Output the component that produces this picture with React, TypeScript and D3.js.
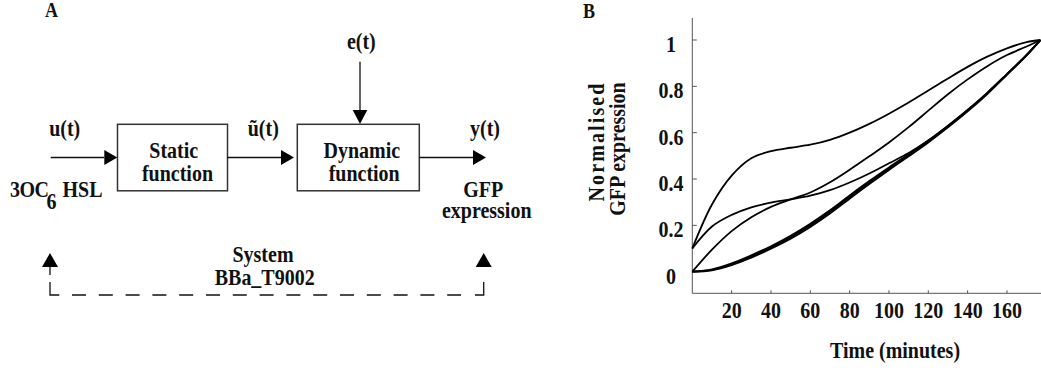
import React from "react";
import * as d3 from "d3";

// Sampling times (minutes) of the simulated GFP responses
const TIME = [0, 10, 20, 30, 40, 50, 60, 70, 80, 90, 100, 110, 120, 130, 140, 150, 160, 170, 177];

// Normalised GFP expression for each simulated input profile
const RESP_FAST = [0.1, 0.29, 0.415, 0.49, 0.52, 0.535, 0.548, 0.569, 0.6, 0.638, 0.682, 0.73, 0.782, 0.834, 0.884, 0.928, 0.964, 0.991, 1.0];
const RESP_MID = [0.1, 0.195, 0.245, 0.278, 0.298, 0.312, 0.328, 0.352, 0.385, 0.424, 0.468, 0.512, 0.566, 0.63, 0.698, 0.772, 0.853, 0.936, 1.0];
const RESP_SIGMOID = [0, 0.095, 0.175, 0.235, 0.28, 0.312, 0.342, 0.386, 0.44, 0.498, 0.558, 0.624, 0.695, 0.766, 0.83, 0.887, 0.935, 0.972, 1.0];
const RESP_SLOW_1 = [0, 0.008, 0.032, 0.066, 0.104, 0.148, 0.2, 0.258, 0.322, 0.385, 0.445, 0.503, 0.562, 0.626, 0.695, 0.77, 0.852, 0.935, 1.0];
const RESP_SLOW_2 = [0, 0.01, 0.036, 0.071, 0.11, 0.155, 0.207, 0.265, 0.329, 0.391, 0.45, 0.507, 0.566, 0.629, 0.698, 0.772, 0.853, 0.936, 1.0];
const RESP_SLOW_3 = [0, 0.006, 0.028, 0.061, 0.099, 0.142, 0.193, 0.251, 0.315, 0.378, 0.439, 0.498, 0.558, 0.623, 0.692, 0.767, 0.85, 0.934, 1.0];

const SERIES = [RESP_FAST, RESP_MID, RESP_SIGMOID, RESP_SLOW_1, RESP_SLOW_2, RESP_SLOW_3];

const X_TICKS = [20, 40, 60, 80, 100, 120, 140, 160];
const Y_TICKS = [0, 0.2, 0.4, 0.6, 0.8, 1];
const Y_TICK_LABELS = ["0", "0.2", "0.4", "0.6", "0.8", "1"];

const FONT = "'Liberation Serif', 'Times New Roman', Times, serif";
const STRETCH = 1.12;

type LabelProps = {
  x: number;
  y: number;
  children: React.ReactNode;
  anchor?: "start" | "middle" | "end";
  size?: number;
  rotate?: number;
  extra?: Record<string, unknown>;
};

// Bold serif label, drawn slightly tall
function Label({ x, y, children, anchor = "start", size = 20, rotate = 0, extra = {} }: LabelProps) {
  return (
    <text
      transform={`translate(${x},${y}) rotate(${rotate}) scale(1,${STRETCH})`}
      textAnchor={anchor}
      fontFamily={FONT}
      fontWeight={700}
      fontSize={size}
      fill="#111"
      {...extra}
    >
      {children}
    </text>
  );
}

function Arrow({ x1, y1, x2, y2, head = 13, half = 7.5 }: { x1: number; y1: number; x2: number; y2: number; head?: number; half?: number }) {
  const dx = x2 - x1;
  const dy = y2 - y1;
  const len = Math.hypot(dx, dy);
  const ux = dx / len;
  const uy = dy / len;
  const bx = x2 - ux * head;
  const by = y2 - uy * head;
  const px = -uy * half;
  const py = ux * half;
  return (
    <g>
      <line x1={x1} y1={y1} x2={bx} y2={by} stroke="#111" strokeWidth={1.3} />
      <path d={`M${x2},${y2}L${bx + px},${by + py}L${bx - px},${by - py}Z`} fill="#000" />
    </g>
  );
}

function BlockDiagram() {
  const dashStart = 72;
  const dashEnd = 461;
  return (
    <g>
      <Label x={45} y={17} size={18}>A</Label>

      {/* blocks */}
      <rect x={117.5} y={124.3} width={110} height={66.5} fill="none" stroke="#333" strokeWidth={1.5} />
      <rect x={297.3} y={124.3} width={122} height={66.5} fill="none" stroke="#333" strokeWidth={1.5} />
      <Label x={173.7} y={158} anchor="middle">Static</Label>
      <Label x={177.5} y={181} anchor="middle">function</Label>
      <Label x={361.8} y={158} anchor="middle">Dynamic</Label>
      <Label x={364.2} y={181} anchor="middle">function</Label>

      {/* signal arrows */}
      <Arrow x1={50.7} y1={157.5} x2={117.3} y2={157.5} />
      <Arrow x1={227.3} y1={157.5} x2={294} y2={157.5} />
      <Arrow x1={419.3} y1={157.5} x2={486} y2={157.5} />
      <Arrow x1={360} y1={61.7} x2={360} y2={124} head={14} half={7.3} />

      <Label x={64.7} y={136} anchor="middle">u(t)</Label>
      <Label x={263.3} y={136} anchor="middle">ũ(t)</Label>
      <Label x={485} y={136} anchor="middle">y(t)</Label>
      <Label x={361.3} y={49} anchor="middle">e(t)</Label>

      <Label x={10} y={197} extra={{ letterSpacing: -0.5 }}>3OC</Label>
      <Label x={46.5} y={209}>6</Label>
      <Label x={62.5} y={197}>HSL</Label>

      <Label x={483.3} y={197} anchor="middle">GFP</Label>
      <Label x={486.7} y={218} anchor="middle">expression</Label>

      <Label x={263} y={262} anchor="middle">System</Label>
      <Label x={264.7} y={285} anchor="middle">BBa_T9002</Label>

      {/* system boundary */}
      <Arrow x1={50} y1={267} x2={50} y2={253} head={14} half={8} />
      <line x1={50} y1={267} x2={50} y2={275} stroke="#111" strokeWidth={1.3} />
      <polyline points="50,282 50,295 59.3,295" fill="none" stroke="#111" strokeWidth={1.3} />
      <line x1={dashStart} y1={295} x2={dashEnd} y2={295} stroke="#111" strokeWidth={1.3} strokeDasharray="14 12.8" />
      <polyline points="475,295 483.7,295 483.7,282" fill="none" stroke="#111" strokeWidth={1.3} />
      <path d="M483.7,253L475.7,267L491.7,267Z" fill="#000" />
    </g>
  );
}

function ResponsePlot() {
  const x = d3.scaleLinear().domain([0, 180]).range([692.3, 1046.3]);
  const y = d3.scaleLinear().domain([0, 1]).range([271.7, 40]);
  const line = d3
    .line<number>()
    .x((_, i) => x(TIME[i]))
    .y((v) => y(v))
    .curve(d3.curveCatmullRom.alpha(0.5));
  const axisBottom = 293.3;
  const axisLeft = x(0);
  return (
    <g>
      <Label x={583} y={18} size={18}>B</Label>

      {/* axes */}
      <line x1={axisLeft} y1={18} x2={axisLeft} y2={axisBottom} stroke="#555" strokeWidth={1} />
      <line x1={axisLeft} y1={axisBottom} x2={1041} y2={axisBottom} stroke="#555" strokeWidth={1} />
      {Y_TICKS.map((v, i) => (
        <g key={`y${v}`}>
          <line x1={axisLeft} x2={axisLeft + 4.5} y1={y(v)} y2={y(v)} stroke="#555" strokeWidth={1} />
          <Label x={671} y={y(v) + 12} anchor="middle">{Y_TICK_LABELS[i]}</Label>
        </g>
      ))}
      {X_TICKS.map((v) => (
        <g key={`x${v}`}>
          <line x1={x(v)} x2={x(v)} y1={axisBottom} y2={axisBottom - 3} stroke="#555" strokeWidth={1} />
          <Label x={x(v)} y={318} anchor="middle">{v}</Label>
        </g>
      ))}

      <Label x={604} y={142.5} rotate={-90} anchor="middle" extra={{ textLength: 118, lengthAdjust: "spacing" }}>
        Normalised
      </Label>
      <Label x={625} y={149} rotate={-90} anchor="middle">GFP expression</Label>
      <Label x={895} y={358} anchor="middle">Time (minutes)</Label>

      {/* simulated responses */}
      {SERIES.map((s, i) => (
        <path key={i} d={line(s) ?? ""} fill="none" stroke="#000" strokeWidth={1.8} />
      ))}
    </g>
  );
}

export default function App() {
  return (
    <svg
      width={1041}
      height={372}
      viewBox="0 0 1041 372"
      style={{ position: "absolute", left: 0, top: 0, background: "#fff" }}
    >
      <rect width={1041} height={372} fill="#fff" />
      <BlockDiagram />
      <ResponsePlot />
    </svg>
  );
}
